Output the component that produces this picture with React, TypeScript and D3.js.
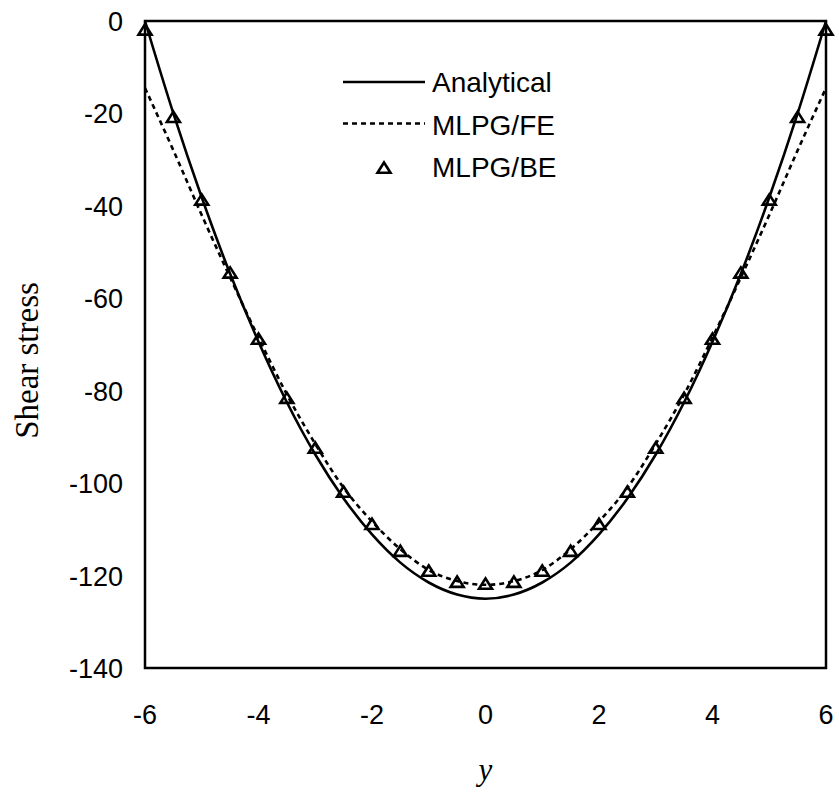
import React from "react";
import * as d3 from "d3";

const xTicks = [-6, -4, -2, 0, 2, 4, 6];
const yTicks = [0, -20, -40, -60, -80, -100, -120, -140];

const analyticalX = [-6, -5.5, -5, -4.5, -4, -3.5, -3, -2.5, -2, -1.5, -1, -0.5, 0, 0.5, 1, 1.5, 2, 2.5, 3, 3.5, 4, 4.5, 5, 5.5, 6];
const analyticalY = [0, -20.0, -38.2, -54.7, -69.4, -82.5, -93.8, -103.3, -111.1, -117.2, -121.5, -124.1, -125, -124.1, -121.5, -117.2, -111.1, -103.3, -93.8, -82.5, -69.4, -54.7, -38.2, -20.0, 0];

const feX = [-6, -5.5, -5, -4.5, -4, -3.5, -3, -2.5, -2, -1.5, -1, -0.5, 0, 0.5, 1, 1.5, 2, 2.5, 3, 3.5, 4, 4.5, 5, 5.5, 6];
const feY = [-14.5, -28, -42, -55.5, -68.5, -80.8, -91.5, -101, -108.3, -114.3, -118.8, -121.2, -122.0, -121.2, -118.8, -114.3, -108.3, -101, -91.5, -80.8, -68.5, -55.5, -42, -28, -14.5];

const beX = [-6, -5.5, -5, -4.5, -4, -3.5, -3, -2.5, -2, -1.5, -1, -0.5, 0, 0.5, 1, 1.5, 2, 2.5, 3, 3.5, 4, 4.5, 5, 5.5, 6];
const beY = [-1.9, -20.8, -38.7, -54.5, -68.8, -81.6, -92.4, -101.9, -108.9, -114.7, -119.0, -121.4, -121.8, -121.4, -119.0, -114.7, -108.9, -101.9, -92.4, -81.6, -68.8, -54.5, -38.7, -20.8, -1.9];

const legendLabels = ["Analytical", "MLPG/FE", "MLPG/BE"];

const W = 839;
const H = 794;
const left = 145;
const right = 826;
const top = 21;
const bottom = 668;

export default function App() {
  const x = d3.scaleLinear().domain([-6, 6]).range([left, right]);
  const y = d3.scaleLinear().domain([-140, 0]).range([bottom, top]);

  const line = d3
    .line<[number, number]>()
    .x((d) => x(d[0]))
    .y((d) => y(d[1]))
    .curve(d3.curveMonotoneX);

  const anaPts: [number, number][] = analyticalX.map((v, i) => [v, analyticalY[i]]);
  const fePts: [number, number][] = feX.map((v, i) => [v, feY[i]]);

  const tri = (cx: number, cy: number) =>
    `M${cx},${cy - 5.5}L${cx + 6.5},${cy + 4.8}L${cx - 6.5},${cy + 4.8}Z`;

  const sans = "'Liberation Sans', Arial, sans-serif";
  const serif = "'Liberation Serif', 'Times New Roman', serif";

  return (
    <svg
      width={W}
      height={H}
      style={{ position: "absolute", left: 0, top: 0, background: "#fff" }}
    >
      <rect x={0} y={0} width={W} height={H} fill="#fff" />
      <rect
        x={left}
        y={top}
        width={right - left}
        height={bottom - top}
        fill="none"
        stroke="#000"
        strokeWidth={2.5}
      />
      {yTicks.map((t) => (
        <text
          key={"y" + t}
          x={123}
          y={y(t) + 10}
          textAnchor="end"
          fontFamily={sans}
          fontSize={27}
          fill="#000"
        >
          {t}
        </text>
      ))}
      {xTicks.map((t) => (
        <text
          key={"x" + t}
          x={x(t)}
          y={724}
          textAnchor="middle"
          fontFamily={sans}
          fontSize={27}
          fill="#000"
        >
          {t}
        </text>
      ))}
      <text
        transform={`translate(38,${(top + bottom) / 2 + 16}) rotate(-90)`}
        textAnchor="middle"
        fontFamily={serif}
        fontSize={33}
        fill="#000"
      >
        Shear stress
      </text>
      <text
        x={(left + right) / 2}
        y={780}
        textAnchor="middle"
        fontFamily={serif}
        fontStyle="italic"
        fontSize={31}
        fill="#000"
      >
        y
      </text>
      <path d={line(anaPts) || ""} fill="none" stroke="#000" strokeWidth={2.6} />
      <path
        d={line(fePts) || ""}
        fill="none"
        stroke="#000"
        strokeWidth={2.6}
        strokeDasharray="5,4"
      />
      {beX.map((v, i) => (
        <path
          key={"b" + i}
          d={tri(x(v), y(beY[i]))}
          fill="none"
          stroke="#000"
          strokeWidth={2.6}
        />
      ))}
      <line x1={343} x2={425} y1={82} y2={82} stroke="#000" strokeWidth={2.6} />
      <line
        x1={343}
        x2={425}
        y1={123.5}
        y2={123.5}
        stroke="#000"
        strokeWidth={2.6}
        strokeDasharray="5,4"
      />
      <path d={tri(384, 168)} fill="none" stroke="#000" strokeWidth={2.6} />
      {legendLabels.map((l, i) => (
        <text
          key={l}
          x={432}
          y={92 + i * 42.5}
          fontFamily={sans}
          fontSize={28}
          fill="#000"
        >
          {l}
        </text>
      ))}
    </svg>
  );
}
